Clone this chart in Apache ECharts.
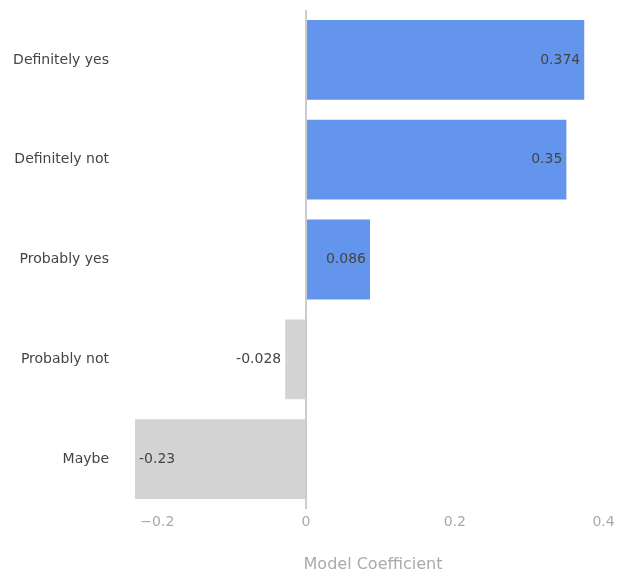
<!DOCTYPE html>
<html><head><meta charset="utf-8">
<script src="https://cdn.jsdelivr.net/npm/echarts@6/dist/echarts.min.js"></script>
<style>html,body{margin:0;padding:0;background:#fff}#c{width:619px;height:573px}</style>
</head><body><div id="c"></div>
<script>
const categories = ["Definitely yes", "Definitely not", "Probably yes", "Probably not", "Maybe"];
const values = [0.374, 0.35, 0.086, -0.028, -0.23];
const tickValues = [-0.2, 0, 0.2, 0.4];
const axisTitle = "Model Coefficient";

const FONT = "'DejaVu Sans', Verdana, sans-serif";
const data = values.map(v => {
  let pos;
  if (v >= 0) pos = 'insideRight';
  else if (Math.abs(v) > 0.1) pos = 'insideLeft';
  else pos = 'left';
  return {
    value: v,
    itemStyle: { color: v >= 0 ? '#6495ED' : '#D3D3D3' },
    label: { position: pos }
  };
});

const chart = echarts.init(document.getElementById('c'));
chart.setOption({
  animation: false,
  grid: { left: 135, right: 8, top: 10, bottom: 64, outerBoundsMode: 'none', containLabel: false },
  xAxis: {
    type: 'value', min: -0.23, max: 0.41,
    splitLine: { show: false }, axisLine: { show: false }, axisTick: { show: false },
    axisLabel: {
      color: '#aaa', fontFamily: FONT, fontSize: 14, margin: 6,
      showMinLabel: false, showMaxLabel: false,
      formatter: v => {
        const t = tickValues.find(x => Math.abs(x - v) < 1e-9);
        if (t === undefined) return '';
        return t < 0 ? '\u2212' + Math.abs(t) : String(t);
      }
    },
    name: axisTitle, nameLocation: 'middle', nameGap: 48,
    nameTextStyle: { color: '#aaa', fontFamily: FONT, fontSize: 16 }
  },
  yAxis: {
    type: 'category', data: categories, inverse: true,
    axisLine: { show: false }, axisTick: { show: false },
    axisLabel: { color: '#444', fontFamily: FONT, fontSize: 14, margin: 26 }
  },
  series: [{
    type: 'bar', data: data, barCategoryGap: '20%',
    label: {
      show: true, color: '#444', fontFamily: FONT, fontSize: 14, distance: 4,
      formatter: p => String(p.value)
    },
    markLine: {
      silent: true, symbol: 'none', label: { show: false },
      lineStyle: { color: '#ccc', width: 2, type: 'solid' },
      data: [{ xAxis: 0 }]
    }
  }]
});
</script></body></html>
